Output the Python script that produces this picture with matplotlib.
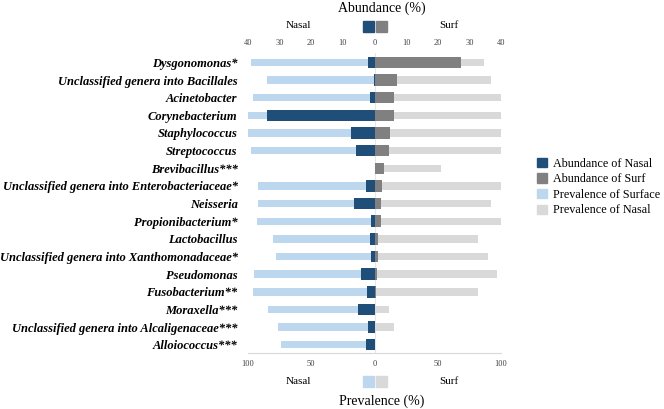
import numpy as np
import matplotlib
matplotlib.use("Agg")
import matplotlib.pyplot as plt
from matplotlib.patches import Rectangle

# === data ===
genera = ["Dysgonomonas*", "Unclassified genera into Bacillales", "Acinetobacter",
          "Corynebacterium", "Staphylococcus", "Streptococcus", "Brevibacillus***",
          "Unclassified genera into Enterobacteriaceae*", "Neisseria",
          "Propionibacterium*", "Lactobacillus",
          "Unclassified genera into Xanthomonadaceae*", "Pseudomonas",
          "Fusobacterium**", "Moraxella***",
          "Unclassified genera into Alcaligenaceae***", "Alloiococcus***"]
# abundance (%)
abund_nasal = [2.1, 0.2, 1.3, 34.1, 7.4, 5.7, 0.0, 2.8, 6.6, 1.1, 1.3, 1.1, 4.2, 2.3, 5.1, 1.9, 2.8]
abund_surf = [27.5, 7.0, 6.1, 6.1, 4.9, 4.7, 3.0, 2.5, 1.9, 1.9, 1.1, 1.1, 0.8, 0.6, 0.1, 0.1, 0.0]
# prevalence (%)
prev_left = [97.5, 84.8, 95.9, 100, 100, 98.0, 0, 91.7, 91.7, 92.7, 80.1, 78.0, 94.9, 95.9, 83.8, 75.9, 74.3]
prev_right = [86.4, 92.2, 100, 100, 100, 100, 52.7, 100, 92.2, 100, 81.7, 90.1, 97.0, 81.7, 11.6, 15.8, 0]

c_dark = "#1F4E79"
c_gray = "#808080"
c_lblue = "#BDD7EE"
c_lgray = "#D9D9D9"

plt.rcParams["font.family"] = ["Liberation Serif", "DejaVu Serif"]

W, H = 664, 409
fig = plt.figure(figsize=(W / 100, H / 100), dpi=100)
ax = fig.add_axes([248 / W, 1 - 352.7 / H, 253 / W, 300 / H])
ax2 = ax.twiny()

y = np.arange(len(genera))

# prevalence bars (bottom axis)
ax.barh(y, -np.array(prev_left), height=0.42, color=c_lblue, zorder=2)
ax.barh(y, prev_right, height=0.42, color=c_lgray, zorder=2)
ax.axvline(0, color="#E6E6E6", lw=0.8, zorder=1)
ax.set_xlim(-100, 100)
ax.set_ylim(16.45, -0.55)
ax.set_xticks([-100, -50, 0, 50, 100])
ax.set_xticklabels(["100", "50", "0", "50", "100"], fontsize=6, color="#404040")
ax.set_yticks(y)
ax.set_yticklabels(genera, fontsize=9, fontweight="bold", fontstyle="italic")
ax.tick_params(length=0, pad=7.5)
ax.tick_params(axis="x", pad=5)
for s in ["top", "left", "right"]:
    ax.spines[s].set_visible(False)
ax.spines["bottom"].set_color("#D9D9D9")

# abundance bars (top axis)
ax2.barh(y, -np.array(abund_nasal), height=0.65, color=c_dark, zorder=3)
ax2.barh(y, abund_surf, height=0.65, color=c_gray, zorder=3)
ax2.set_xlim(-40, 40)
ax2.set_xticks(np.arange(-40, 41, 10))
ax2.set_xticklabels([str(abs(v)) for v in range(-40, 41, 10)], fontsize=6, color="#404040")
ax2.tick_params(length=0, pad=4)
for s in ["top", "left", "right", "bottom"]:
    ax2.spines[s].set_visible(False)

# header / footer labels
def fy(py):
    return 1 - py / H

fig.text(382 / W, fy(8), "Abundance (%)", ha="center", va="center", fontsize=10)
fig.text(382 / W, fy(401), "Prevalence (%)", ha="center", va="center", fontsize=10)
for py in (25, 381.5):
    fig.text(298 / W, fy(py), "Nasal", ha="center", va="center", fontsize=8)
    fig.text(449 / W, fy(py), "Surf", ha="center", va="center", fontsize=8)

for py, cols in ((26, (c_dark, c_gray)), (381.5, (c_lblue, c_lgray))):
    fig.patches.append(Rectangle((363 / W, fy(py + 5.5)), 11 / W, 11 / H,
                                 color=cols[0], transform=fig.transFigure))
    fig.patches.append(Rectangle((376 / W, fy(py + 5.5)), 11 / W, 11 / H,
                                 color=cols[1], transform=fig.transFigure))

# legend
handles = [Rectangle((0, 0), 1, 1, color=c) for c in (c_dark, c_gray, c_lblue, c_lgray)]
labels = ["Abundance of Nasal", "Abundance of Surf", "Prevalence of Surface", "Prevalence of Nasal"]
fig.legend(handles, labels, loc="center left", bbox_to_anchor=(537 / W, fy(187)),
           frameon=False, fontsize=8.7, handlelength=0.8, handleheight=0.8,
           labelspacing=0.3, handletextpad=0.55, borderpad=0, borderaxespad=0)

fig.savefig("out.png", dpi=100)
